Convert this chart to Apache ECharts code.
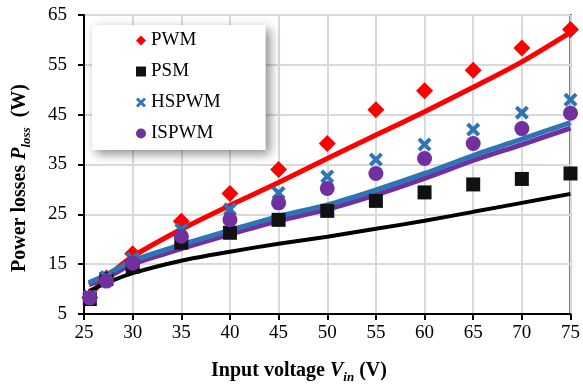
<!DOCTYPE html>
<html>
<head>
<meta charset="utf-8">
<script src="https://cdn.jsdelivr.net/npm/echarts@6/dist/echarts.min.js"></script>
<style>html,body{margin:0;padding:0;background:#fff;}#c{width:583px;height:388px;}</style>
</head>
<body>
<div id="c"></div>
<script>
// Measured points
var xPts = [25.6, 27.3, 30, 35, 40, 45, 50, 55, 60, 65, 70, 75];
var pwm   = [8.3, 12.2, 17.1, 23.6, 29.2, 34.0, 39.2, 46.0, 49.8, 53.9, 58.4, 62.1];
var psm   = [8.0, 12.0, 14.5, 19.3, 21.3, 23.9, 25.7, 27.7, 29.4, 31.0, 32.1, 33.2];
var hspwm = [8.5, 12.4, 16.1, 21.9, 26.0, 29.3, 32.6, 36.0, 39.0, 42.0, 45.4, 48.0];
var ispwm = [8.2, 11.6, 15.2, 20.6, 23.9, 27.3, 30.2, 33.2, 36.2, 39.2, 42.2, 45.3];
// Fitted curves
var fitX     = [25.5, 27.3, 30, 35, 40, 45, 50, 55, 60, 65, 70, 75];
var pwmFit   = [8.5, 12.3, 16.5, 22.0, 26.8, 31.4, 36.2, 40.9, 45.6, 50.5, 55.6, 61.5];
var psmFit   = [9.6, 11.2, 13.2, 15.7, 17.5, 19.1, 20.5, 22.1, 23.7, 25.5, 27.3, 29.1];
var hspwmFit = [11.3, 12.9, 15.7, 18.9, 21.8, 24.6, 26.9, 29.9, 33.2, 36.8, 40.1, 43.4];
var ispwmFit = [10.9, 12.3, 15.0, 18.1, 21.0, 23.7, 26.0, 28.9, 32.2, 35.8, 39.0, 42.3];
var xTicks = [25, 30, 35, 40, 45, 50, 55, 60, 65, 70, 75];
var yTicks = [5, 15, 25, 35, 45, 55, 65];

function pairs(xs, ys) { return xs.map(function (x, i) { return [x, ys[i]]; }); }

var FONT = 'Liberation Serif';
var xPath = 'path://M2,0 L5,3 L8,0 L10,2 L7,5 L10,8 L8,10 L5,7 L2,10 L0,8 L3,5 L0,2 Z';

var chart = echarts.init(document.getElementById('c'), null, {renderer: 'canvas'});
function fitSeries(name, data, color, w) {
  return {
    name: name, type: 'line', data: pairs(fitX, data), smooth: 0.3, symbol: 'none',
    lineStyle: {color: color, width: w}, z: 2, silent: true
  };
}
function scat(name, data, symbol, size, color) {
  return {
    name: name, type: 'scatter', data: pairs(xPts, data), symbol: symbol, symbolSize: size,
    itemStyle: {color: color, opacity: 1}, z: 5
  };
}
var richStyles = {
  b: {fontFamily: FONT, fontSize: 20, fontWeight: 'bold', fill: '#000', lineHeight: 26},
  i: {fontFamily: FONT, fontSize: 20, fontWeight: 'bold', fontStyle: 'italic', fill: '#000', lineHeight: 26},
  s: {fontFamily: FONT, fontSize: 13, fontWeight: 'bold', fontStyle: 'italic', fill: '#000', lineHeight: 13, verticalAlign: 'bottom'}
};
var option = {
  animation: false,
  backgroundColor: '#fff',
  grid: {left: 84, right: 12, top: 15, bottom: 74, show: true, borderColor: '#000', borderWidth: 2, backgroundColor: 'transparent'},
  xAxis: {
    type: 'value', min: 25, max: 75, interval: 5,
    axisLine: {lineStyle: {color: '#000', width: 2}},
    axisTick: {show: true, length: 6, lineStyle: {color: '#000', width: 2}},
    axisLabel: {fontFamily: FONT, fontSize: 19, color: '#000', margin: 10},
    splitLine: {show: true, lineStyle: {color: '#d9d9d9', width: 2}}
  },
  yAxis: {
    type: 'value', min: 5, max: 65, interval: 10,
    axisLine: {show: true, lineStyle: {color: '#000', width: 2}},
    axisTick: {show: true, length: 6, lineStyle: {color: '#000', width: 2}},
    axisLabel: {fontFamily: FONT, fontSize: 19, color: '#000', margin: 17},
    splitLine: {show: true, lineStyle: {color: '#d9d9d9', width: 2}}
  },
  legend: {
    data: [{name: 'PWM', icon: 'diamond'}, {name: 'PSM', icon: 'rect'}, {name: 'HSPWM', icon: xPath}, {name: 'ISPWM', icon: 'circle'}],
    orient: 'vertical', left: 92, top: 25,
    padding: [5, 45, 6, 44],
    itemWidth: 10, itemHeight: 10, itemGap: 10,
    backgroundColor: '#fff',
    shadowBlur: 10, shadowOffsetX: 4, shadowOffsetY: 4, shadowColor: 'rgba(0,0,0,0.45)',
    textStyle: {fontFamily: FONT, fontSize: 19, color: '#000', lineHeight: 21}
  },
  graphic: [
    {id: 'xt', type: 'text', x: 299, y: 371,
     style: {rich: richStyles, text: '{b|Input voltage }{i|V}{s|in}{b| (V)}', align: 'center', verticalAlign: 'middle'}},
    {id: 'yt', type: 'text', x: 20, y: 178, rotation: Math.PI / 2,
     style: {rich: richStyles, text: '{b|Power losses }{i|P}{s|loss}{b|  (W)}', align: 'center', verticalAlign: 'middle'}}
  ],
  series: [
    fitSeries('PWM fit', pwmFit, '#ff0000', 5),
    fitSeries('PSM fit', psmFit, '#000000', 4),
    fitSeries('ISPWM fit', ispwmFit, '#7030a0', 5),
    fitSeries('HSPWM fit', hspwmFit, '#2e75b6', 5),
    scat('PWM', pwm, 'diamond', 17, '#ff0000'),
    scat('PSM', psm, 'rect', 14, '#111111'),
    scat('HSPWM', hspwm, xPath, 14, '#2e75b6'),
    scat('ISPWM', ispwm, 'circle', 15, '#7030a0')
  ]
};
chart.setOption(option);
</script>
</body>
</html>
